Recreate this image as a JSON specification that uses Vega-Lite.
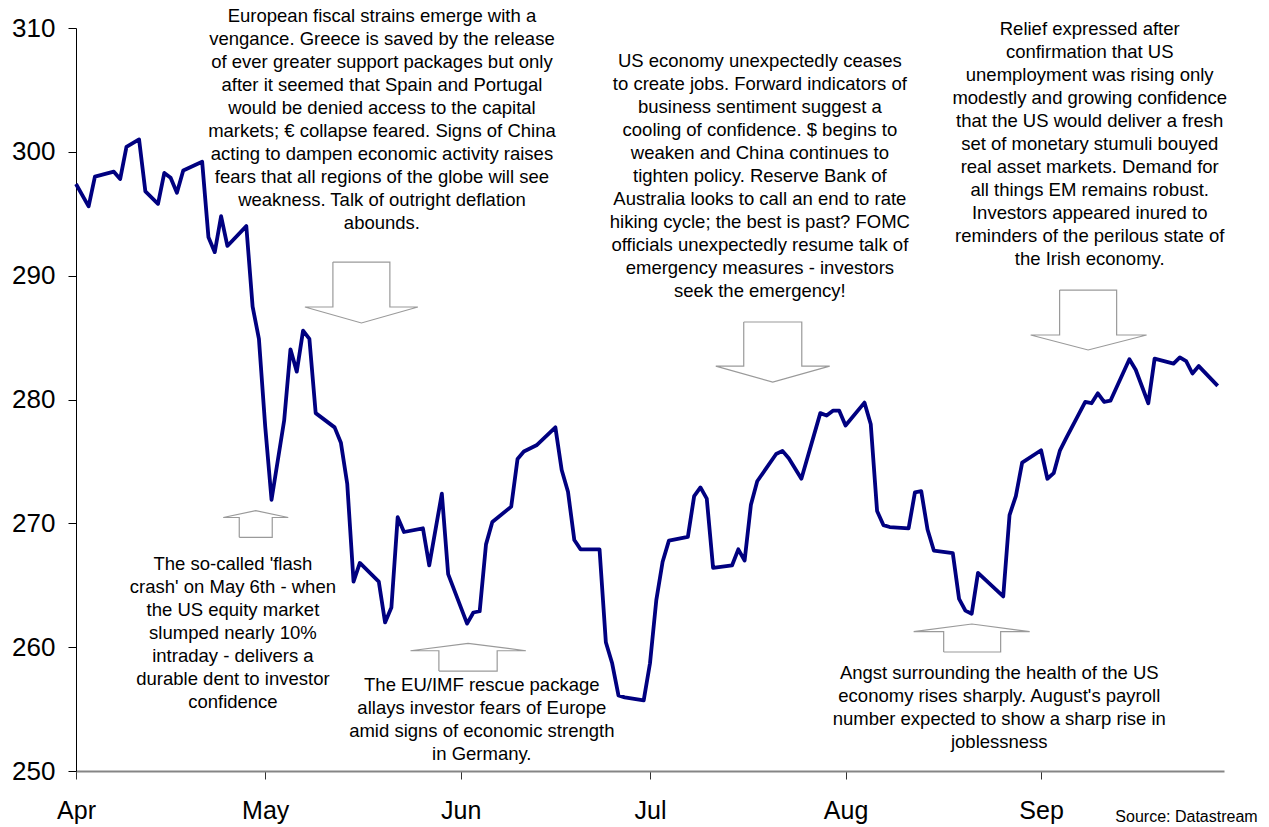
{
  "$schema": "https://vega.github.io/schema/vega-lite/v6.json",
  "autosize": {"type": "none"},
  "width": 1148,
  "height": 743,
  "padding": {"left": 76, "top": 28, "right": 45, "bottom": 56},
  "background": "white",
  "config": {
    "view": {"stroke": null},
    "font": "Liberation Sans"
  },
  "datasets": {
    "index": [
      {"date": "2010-04-01", "value": 297.4},
      {"date": "2010-04-03", "value": 295.6},
      {"date": "2010-04-04", "value": 298.0},
      {"date": "2010-04-07", "value": 298.4},
      {"date": "2010-04-08", "value": 297.8},
      {"date": "2010-04-09", "value": 300.4},
      {"date": "2010-04-11", "value": 301.0},
      {"date": "2010-04-12", "value": 296.8},
      {"date": "2010-04-14", "value": 295.8},
      {"date": "2010-04-15", "value": 298.3},
      {"date": "2010-04-16", "value": 297.9},
      {"date": "2010-04-17", "value": 296.7},
      {"date": "2010-04-18", "value": 298.5},
      {"date": "2010-04-21", "value": 299.2},
      {"date": "2010-04-22", "value": 293.1},
      {"date": "2010-04-23", "value": 291.9},
      {"date": "2010-04-24", "value": 294.8},
      {"date": "2010-04-25", "value": 292.4},
      {"date": "2010-04-28", "value": 294.0},
      {"date": "2010-04-29", "value": 287.5},
      {"date": "2010-04-30", "value": 284.9},
      {"date": "2010-05-01", "value": 277.8},
      {"date": "2010-05-02", "value": 271.9},
      {"date": "2010-05-04", "value": 278.3},
      {"date": "2010-05-05", "value": 284.05},
      {"date": "2010-05-06", "value": 282.25},
      {"date": "2010-05-07", "value": 285.56},
      {"date": "2010-05-08", "value": 284.9},
      {"date": "2010-05-09", "value": 278.9},
      {"date": "2010-05-12", "value": 277.75},
      {"date": "2010-05-13", "value": 276.5},
      {"date": "2010-05-14", "value": 273.2},
      {"date": "2010-05-15", "value": 265.3},
      {"date": "2010-05-16", "value": 266.8},
      {"date": "2010-05-19", "value": 265.3},
      {"date": "2010-05-20", "value": 262.0},
      {"date": "2010-05-21", "value": 263.2},
      {"date": "2010-05-22", "value": 270.5},
      {"date": "2010-05-23", "value": 269.3},
      {"date": "2010-05-26", "value": 269.6},
      {"date": "2010-05-27", "value": 266.6},
      {"date": "2010-05-29", "value": 272.4},
      {"date": "2010-05-30", "value": 265.9},
      {"date": "2010-06-02", "value": 261.9},
      {"date": "2010-06-03", "value": 262.8},
      {"date": "2010-06-04", "value": 262.9},
      {"date": "2010-06-05", "value": 268.3},
      {"date": "2010-06-06", "value": 270.1},
      {"date": "2010-06-09", "value": 271.35},
      {"date": "2010-06-10", "value": 275.2},
      {"date": "2010-06-11", "value": 275.8},
      {"date": "2010-06-13", "value": 276.3},
      {"date": "2010-06-16", "value": 277.75},
      {"date": "2010-06-17", "value": 274.3},
      {"date": "2010-06-18", "value": 272.55},
      {"date": "2010-06-19", "value": 268.65},
      {"date": "2010-06-20", "value": 267.9},
      {"date": "2010-06-23", "value": 267.9},
      {"date": "2010-06-24", "value": 260.4},
      {"date": "2010-06-25", "value": 258.7},
      {"date": "2010-06-26", "value": 256.1},
      {"date": "2010-06-27", "value": 255.95},
      {"date": "2010-06-30", "value": 255.7},
      {"date": "2010-07-01", "value": 258.7},
      {"date": "2010-07-02", "value": 263.8},
      {"date": "2010-07-03", "value": 266.9},
      {"date": "2010-07-04", "value": 268.6},
      {"date": "2010-07-07", "value": 268.9},
      {"date": "2010-07-08", "value": 272.2},
      {"date": "2010-07-09", "value": 272.9},
      {"date": "2010-07-10", "value": 272.0},
      {"date": "2010-07-11", "value": 266.4},
      {"date": "2010-07-14", "value": 266.6},
      {"date": "2010-07-15", "value": 267.9},
      {"date": "2010-07-16", "value": 267.0},
      {"date": "2010-07-17", "value": 271.5},
      {"date": "2010-07-18", "value": 273.4},
      {"date": "2010-07-21", "value": 275.6},
      {"date": "2010-07-22", "value": 275.85},
      {"date": "2010-07-23", "value": 275.25},
      {"date": "2010-07-25", "value": 273.6},
      {"date": "2010-07-28", "value": 278.9},
      {"date": "2010-07-29", "value": 278.7},
      {"date": "2010-07-30", "value": 279.1},
      {"date": "2010-07-31", "value": 279.1},
      {"date": "2010-08-01", "value": 277.9},
      {"date": "2010-08-04", "value": 279.75},
      {"date": "2010-08-05", "value": 278.0},
      {"date": "2010-08-06", "value": 271.0},
      {"date": "2010-08-07", "value": 269.86},
      {"date": "2010-08-08", "value": 269.7},
      {"date": "2010-08-11", "value": 269.6},
      {"date": "2010-08-12", "value": 272.5},
      {"date": "2010-08-13", "value": 272.6},
      {"date": "2010-08-14", "value": 269.5},
      {"date": "2010-08-15", "value": 267.8},
      {"date": "2010-08-18", "value": 267.6},
      {"date": "2010-08-19", "value": 263.9},
      {"date": "2010-08-20", "value": 262.95},
      {"date": "2010-08-21", "value": 262.7},
      {"date": "2010-08-22", "value": 266.0},
      {"date": "2010-08-26", "value": 264.1},
      {"date": "2010-08-27", "value": 270.67},
      {"date": "2010-08-28", "value": 272.2},
      {"date": "2010-08-29", "value": 274.9},
      {"date": "2010-09-01", "value": 275.9},
      {"date": "2010-09-02", "value": 273.6},
      {"date": "2010-09-03", "value": 274.05},
      {"date": "2010-09-04", "value": 275.9},
      {"date": "2010-09-05", "value": 276.9},
      {"date": "2010-09-08", "value": 279.8},
      {"date": "2010-09-09", "value": 279.7},
      {"date": "2010-09-10", "value": 280.5},
      {"date": "2010-09-11", "value": 279.8},
      {"date": "2010-09-12", "value": 279.9},
      {"date": "2010-09-15", "value": 283.25},
      {"date": "2010-09-16", "value": 282.4},
      {"date": "2010-09-18", "value": 279.7},
      {"date": "2010-09-19", "value": 283.3},
      {"date": "2010-09-22", "value": 282.9},
      {"date": "2010-09-23", "value": 283.4},
      {"date": "2010-09-24", "value": 283.1},
      {"date": "2010-09-25", "value": 282.1},
      {"date": "2010-09-26", "value": 282.7},
      {"date": "2010-09-29", "value": 281.1}
    ],
    "arrows": [
      {"arrow": "a1", "k": 1, "date": "2010-05-11T17:30:00Z", "value": 291.1},
      {"arrow": "a1", "k": 2, "date": "2010-05-20T18:15:00Z", "value": 291.1},
      {"arrow": "a1", "k": 3, "date": "2010-05-20T18:15:00Z", "value": 287.47},
      {"arrow": "a1", "k": 4, "date": "2010-05-25T04:48:00Z", "value": 287.47},
      {"arrow": "a1", "k": 5, "date": "2010-05-16T06:00:00Z", "value": 286.18},
      {"arrow": "a1", "k": 6, "date": "2010-05-07T07:00:00Z", "value": 287.47},
      {"arrow": "a1", "k": 7, "date": "2010-05-11T17:30:00Z", "value": 287.47},
      {"arrow": "a1", "k": 8, "date": "2010-05-11T17:30:00Z", "value": 291.1},
      {"arrow": "a2", "k": 1, "date": "2010-07-15T20:40:00Z", "value": 286.26},
      {"arrow": "a2", "k": 2, "date": "2010-07-25T01:30:00Z", "value": 286.26},
      {"arrow": "a2", "k": 3, "date": "2010-07-25T01:30:00Z", "value": 282.7},
      {"arrow": "a2", "k": 4, "date": "2010-07-29T11:45:00Z", "value": 282.7},
      {"arrow": "a2", "k": 5, "date": "2010-07-20T11:00:00Z", "value": 281.41},
      {"arrow": "a2", "k": 6, "date": "2010-07-11T10:20:00Z", "value": 282.7},
      {"arrow": "a2", "k": 7, "date": "2010-07-15T20:40:00Z", "value": 282.7},
      {"arrow": "a2", "k": 8, "date": "2010-07-15T20:40:00Z", "value": 286.26},
      {"arrow": "a3", "k": 1, "date": "2010-09-03T22:30:00Z", "value": 288.84},
      {"arrow": "a3", "k": 2, "date": "2010-09-12T23:30:00Z", "value": 288.84},
      {"arrow": "a3", "k": 3, "date": "2010-09-12T23:30:00Z", "value": 285.21},
      {"arrow": "a3", "k": 4, "date": "2010-09-17T17:30:00Z", "value": 285.21},
      {"arrow": "a3", "k": 5, "date": "2010-09-08T11:00:00Z", "value": 284.0},
      {"arrow": "a3", "k": 6, "date": "2010-08-30T08:25:00Z", "value": 285.21},
      {"arrow": "a3", "k": 7, "date": "2010-09-03T22:30:00Z", "value": 285.21},
      {"arrow": "a3", "k": 8, "date": "2010-09-03T22:30:00Z", "value": 288.84},
      {"arrow": "a4", "k": 1, "date": "2010-04-26T21:10:00Z", "value": 268.87},
      {"arrow": "a4", "k": 2, "date": "2010-05-02T02:40:00Z", "value": 268.87},
      {"arrow": "a4", "k": 3, "date": "2010-05-02T02:40:00Z", "value": 270.47},
      {"arrow": "a4", "k": 4, "date": "2010-05-04T15:35:00Z", "value": 270.47},
      {"arrow": "a4", "k": 5, "date": "2010-04-29T11:50:00Z", "value": 271.02},
      {"arrow": "a4", "k": 6, "date": "2010-04-24T08:10:00Z", "value": 270.47},
      {"arrow": "a4", "k": 7, "date": "2010-04-26T21:10:00Z", "value": 270.47},
      {"arrow": "a4", "k": 8, "date": "2010-04-26T21:10:00Z", "value": 268.87},
      {"arrow": "a5", "k": 1, "date": "2010-05-28T12:45:00Z", "value": 258.07},
      {"arrow": "a5", "k": 2, "date": "2010-06-06T18:30:00Z", "value": 258.07},
      {"arrow": "a5", "k": 3, "date": "2010-06-06T18:30:00Z", "value": 259.71},
      {"arrow": "a5", "k": 4, "date": "2010-06-11T07:40:00Z", "value": 259.71},
      {"arrow": "a5", "k": 5, "date": "2010-06-02T03:50:00Z", "value": 260.31},
      {"arrow": "a5", "k": 6, "date": "2010-05-24T00:45:00Z", "value": 259.71},
      {"arrow": "a5", "k": 7, "date": "2010-05-28T12:45:00Z", "value": 259.71},
      {"arrow": "a5", "k": 8, "date": "2010-05-28T12:45:00Z", "value": 258.07},
      {"arrow": "a6", "k": 1, "date": "2010-08-16T13:25:00Z", "value": 259.61},
      {"arrow": "a6", "k": 2, "date": "2010-08-25T14:10:00Z", "value": 259.61},
      {"arrow": "a6", "k": 3, "date": "2010-08-25T14:10:00Z", "value": 261.26},
      {"arrow": "a6", "k": 4, "date": "2010-08-30T04:35:00Z", "value": 261.26},
      {"arrow": "a6", "k": 5, "date": "2010-08-21T00:45:00Z", "value": 261.87},
      {"arrow": "a6", "k": 6, "date": "2010-08-11T19:10:00Z", "value": 261.26},
      {"arrow": "a6", "k": 7, "date": "2010-08-16T13:25:00Z", "value": 261.26},
      {"arrow": "a6", "k": 8, "date": "2010-08-16T13:25:00Z", "value": 259.61}
    ],
    "notes": [
      {"date": "2010-05-19T12:00:00Z", "value": 311.7, "note": "European fiscal strains emerge with a\nvengance. Greece is saved by the release\nof ever greater support packages but only\nafter it seemed that Spain and Portugal\nwould be denied access to the capital\nmarkets; € collapse feared. Signs of China\nacting to dampen economic activity raises\nfears that all regions of the globe will see\nweakness. Talk of outright deflation\nabounds."},
      {"date": "2010-07-18T10:00:00Z", "value": 308.06, "note": "US economy unexpectedly ceases\nto create jobs. Forward indicators of\nbusiness sentiment suggest a\ncooling of confidence. $ begins to\nweaken and China continues to\ntighten policy. Reserve Bank of\nAustralia looks to call an end to rate\nhiking cycle; the best is past? FOMC\nofficials unexpectedly resume talk of\nemergency measures - investors\nseek the emergency!"},
      {"date": "2010-09-08T17:00:00Z", "value": 310.65, "note": "Relief expressed after\nconfirmation that  US\nunemployment was rising only\nmodestly and growing confidence\nthat the US would deliver a fresh\nset of monetary stumuli bouyed\nreal asset markets. Demand for\nall things EM remains robust.\nInvestors appeared inured to\nreminders of the perilous state of\nthe Irish economy."},
      {"date": "2010-04-25T21:00:00Z", "value": 267.44, "note": "The  so-called 'flash\ncrash' on May 6th - when\nthe US equity market\nslumped nearly 10%\nintraday - delivers a\ndurable dent to investor\nconfidence"},
      {"date": "2010-06-04T08:00:00Z", "value": 257.67, "note": "The EU/IMF rescue package\nallays investor fears of Europe\namid signs of economic strength\nin Germany."},
      {"date": "2010-08-25T09:00:00Z", "value": 258.64, "note": "Angst surrounding the health of the US\neconomy rises sharply. August's payroll\nnumber expected to show a sharp rise in\njoblessness"}
    ],
    "source": [
      {"date": "2010-10-05T08:00:00Z", "value": 246.28, "note": "Source: Datastream"}
    ]
  },
  "encoding": {
    "x": {
      "field": "date",
      "type": "temporal",
      "title": null,
      "scale": {
        "type": "utc",
        "domain": [
          {"year": 2010, "month": 4, "date": 1, "utc": true},
          {"year": 2010, "month": 9, "date": 30, "utc": true}
        ],
        "nice": false
      },
      "axis": {
        "values": [
          {"year": 2010, "month": 4, "date": 1, "utc": true},
          {"year": 2010, "month": 5, "date": 1, "utc": true},
          {"year": 2010, "month": 6, "date": 1, "utc": true},
          {"year": 2010, "month": 7, "date": 1, "utc": true},
          {"year": 2010, "month": 8, "date": 1, "utc": true},
          {"year": 2010, "month": 9, "date": 1, "utc": true}
        ],
        "labelExpr": "utcFormat(datum.value, '%b')",
        "grid": false,
        "domainColor": "#858585",
        "domainWidth": 2.2,
        "tickColor": "#333333",
        "tickWidth": 1,
        "tickSize": 8,
        "labelFont": "Liberation Sans",
        "labelFontSize": 25,
        "labelColor": "black",
        "labelPadding": 19,
        "labelFlush": false,
        "labelOverlap": false
      }
    },
    "y": {
      "field": "value",
      "type": "quantitative",
      "title": null,
      "scale": {"domain": [250, 310], "nice": false, "zero": false},
      "axis": {
        "values": [250, 260, 270, 280, 290, 300, 310],
        "grid": false,
        "domainColor": "black",
        "domainWidth": 1,
        "tickColor": "black",
        "tickWidth": 1,
        "tickSize": 8,
        "labelFont": "Liberation Sans",
        "labelFontSize": 26,
        "labelColor": "black",
        "labelPadding": 13
      }
    }
  },
  "layer": [
    {
      "data": {"name": "arrows"},
      "mark": {"type": "line", "stroke": "#9a9a9a", "strokeWidth": 1.2, "strokeJoin": "miter"},
      "encoding": {
        "detail": {"field": "arrow", "type": "nominal"},
        "order": {"field": "k", "type": "quantitative"}
      }
    },
    {
      "data": {"name": "index"},
      "mark": {"type": "line", "color": "#000080", "strokeWidth": 3.8, "strokeJoin": "round"}
    },
    {
      "data": {"name": "notes"},
      "mark": {
        "type": "text",
        "font": "Liberation Sans",
        "fontSize": 18.5,
        "lineHeight": 23,
        "lineBreak": "\n",
        "align": "center",
        "baseline": "top",
        "color": "black"
      },
      "encoding": {"text": {"field": "note", "type": "nominal"}}
    },
    {
      "data": {"name": "source"},
      "mark": {
        "type": "text",
        "font": "Liberation Sans",
        "fontSize": 16,
        "align": "right",
        "baseline": "middle",
        "color": "black"
      },
      "encoding": {"text": {"field": "note", "type": "nominal"}}
    }
  ]
}
